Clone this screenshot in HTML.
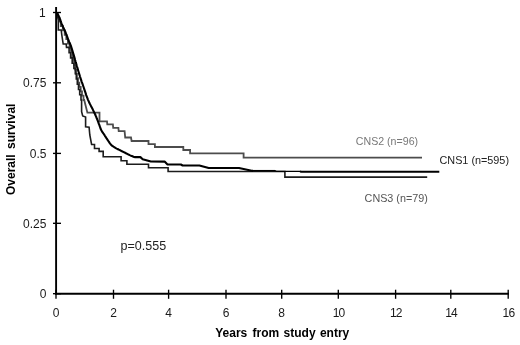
<!DOCTYPE html>
<html>
<head>
<meta charset="utf-8">
<title>Overall survival</title>
<style>
html,body{margin:0;padding:0;background:#fff;}
body{width:520px;height:345px;overflow:hidden;font-family:"Liberation Sans",sans-serif;}
svg{display:block;will-change:transform;filter:blur(0.35px);}
text{font-family:"Liberation Sans",sans-serif;}
</style>
</head>
<body>
<svg width="520" height="345" viewBox="0 0 520 345">
<rect x="0" y="0" width="520" height="345" fill="#ffffff"/>

<!-- curves -->
<g fill="none" stroke-linejoin="miter" stroke-linecap="butt">
<!-- CNS2 gray -->
<polyline stroke="#4c4c4c" stroke-width="1.8" points="57.0,13.0 57.7,13.0 57.7,17.4 59.2,17.4 59.2,21.7 60.8,21.7 60.8,26.1 62.8,26.1 62.8,30.4 64.7,30.4 64.7,34.8 66.3,34.8 66.3,39.1 67.9,39.1 67.9,43.5 69.6,43.5 69.6,47.8 71.0,47.8 71.0,52.2 72.1,52.2 72.1,56.5 73.3,56.5 73.3,60.9 74.2,60.9 74.2,65.2 75.2,65.2 75.2,69.6 76.1,69.6 76.1,73.9 76.9,73.9 76.9,78.2 78.0,78.2 78.0,82.6 79.3,82.6 79.3,86.9 80.7,86.9 80.7,91.3 82.0,91.3 82.0,95.6 83.5,95.6 83.5,100.0 84.2,100.0 87.4,112.7 99.5,112.7 99.5,121.4 107.0,121.4 107.3,124.3 112.9,124.3 113.2,127.8 118.4,127.8 118.7,131.2 124.6,131.2 125.2,137.5 131.0,137.5 131.6,141.0 148.5,141.0 148.5,144.1 154.9,144.1 154.9,147.0 183.3,147.0 183.3,150.0 190.1,150.0 190.1,153.3 243.6,153.3 243.6,157.7 422.0,157.7"/>
<!-- CNS3 dark thin -->
<polyline stroke="#1c1c1c" stroke-width="1.6" points="57.0,13.0 58.3,20.0 58.3,30.0 61.2,30.0 61.8,35.0 63.2,44.0 66.2,44.0 66.5,47.4 68.4,47.4 69.1,47.4 69.1,52.7 70.6,52.7 70.6,57.9 72.2,57.9 72.2,63.2 73.9,63.2 73.9,68.4 75.3,68.4 75.3,73.7 76.3,73.7 76.3,79.0 77.3,79.0 77.3,84.2 78.5,84.2 78.5,89.5 79.7,89.5 79.7,94.7 81.0,94.7 81.0,100.0 81.6,100.0 81.6,111.6 82.7,116.0 85.6,117.0 85.6,126.7 89.1,127.2 89.8,135.0 91.6,144.5 94.5,144.5 94.5,148.5 99.1,148.5 99.1,151.4 103.2,151.4 103.2,156.7 121.1,156.7 121.1,160.7 126.9,160.7 126.9,164.2 148.5,164.2 148.5,167.7 168.1,167.7 168.1,171.5 284.9,171.5 284.9,177.1 427.2,177.1"/>
<!-- CNS1 black thick -->
<polyline stroke="#000000" stroke-width="2.1" stroke-linejoin="round" points="56.8,12.8 57.0,13.1 57.3,13.5 57.6,14.0 57.9,14.5 58.2,15.0 58.4,15.4 58.6,15.8 58.9,16.2 59.1,16.8 59.4,17.5 59.8,18.5 60.2,19.6 60.6,20.9 61.1,22.3 61.7,23.8 62.4,25.4 63.2,27.2 64.1,29.1 64.9,30.9 65.6,32.5 66.1,33.9 66.6,35.0 67.0,36.1 67.4,37.3 67.9,38.7 68.6,40.3 69.3,42.1 70.1,43.9 70.9,45.9 71.6,48.0 72.3,50.4 73.1,53.0 73.9,55.6 74.6,58.1 75.1,60.0 75.5,61.3 75.7,62.0 75.9,62.6 76.0,63.1 76.3,64.0 76.6,65.2 77.0,66.6 77.5,68.1 77.9,69.6 78.3,71.0 78.7,72.3 79.1,73.6 79.5,74.9 79.9,76.3 80.4,77.9 81.0,79.7 81.7,81.8 82.5,83.9 83.2,86.0 83.9,88.0 84.5,89.9 85.1,91.7 85.7,93.4 86.2,95.1 86.8,96.7 87.4,98.2 87.9,99.6 88.5,100.9 89.1,102.2 89.7,103.5 90.4,104.9 91.1,106.3 91.9,107.8 92.6,109.1 93.2,110.4 93.8,111.5 94.2,112.6 94.7,113.5 95.2,114.5 95.6,115.5 96.1,116.6 96.5,117.7 97.0,118.8 97.4,119.9 97.8,120.9 98.2,121.9 98.5,122.8 98.8,123.7 99.2,124.6 99.5,125.5 99.8,126.4 100.1,127.2 100.4,128.1 100.7,129.0 101.2,130.0 101.8,131.1 102.6,132.3 103.4,133.5 104.2,134.7 104.9,135.8 105.6,136.8 106.2,137.8 106.8,138.7 107.4,139.6 108.0,140.5 108.6,141.4 109.3,142.4 109.9,143.3 110.6,144.2 111.3,145.0 112.0,145.6 112.7,146.2 113.5,146.7 114.2,147.1 115.0,147.6 115.8,148.1 116.7,148.6 117.6,149.0 118.5,149.5 119.4,149.9 120.2,150.3 121.1,150.8 121.9,151.2 122.7,151.6 123.5,152.0 124.3,152.4 125.1,152.8 125.9,153.2 126.7,153.6 127.5,154.0 128.2,154.4 128.9,154.7 129.6,155.1 130.3,155.4 131.0,155.7 131.8,156.0 132.6,156.3 133.4,156.7 134.1,156.9 134.6,157.1 140.4,157.1 142.7,159.2 150.9,161.5 164.6,161.6 167.5,164.5 180.9,164.5 182.6,165.5 199.4,165.5 208.7,168.0 239.0,168.0 251.7,170.7 253.0,170.7"/>
<polyline stroke="#000000" stroke-width="1.5" points="252.0,170.7 275.5,170.7"/>
<polyline stroke="#000000" stroke-width="1.2" points="275.0,170.8 276.5,171.4 300.5,171.4"/>
<polyline stroke="#000000" stroke-width="2.1" points="300.0,171.5 301.5,171.8 439.3,171.8"/>
</g>

<!-- axes -->
<g stroke="#000" fill="none">
<line x1="56.1" y1="7" x2="56.1" y2="294.6" stroke-width="1.9"/>
<line x1="55.1" y1="293.7" x2="508.9" y2="293.7" stroke-width="1.9"/>
<g stroke-width="1.35">
<line x1="53" y1="12.5" x2="61" y2="12.5"/>
<line x1="53" y1="82.8" x2="61" y2="82.8"/>
<line x1="53" y1="153.4" x2="61" y2="153.4"/>
<line x1="53" y1="223.3" x2="61" y2="223.3"/>
<line x1="53" y1="293.7" x2="61" y2="293.7"/>
<line x1="56" y1="289.7" x2="56" y2="298.8"/>
<line x1="113.5" y1="289.7" x2="113.5" y2="298.8"/>
<line x1="168.6" y1="289.7" x2="168.6" y2="298.8"/>
<line x1="226" y1="289.7" x2="226" y2="298.8"/>
<line x1="281.7" y1="289.7" x2="281.7" y2="298.8"/>
<line x1="338.3" y1="289.7" x2="338.3" y2="298.8"/>
<line x1="395.6" y1="289.7" x2="395.6" y2="298.8"/>
<line x1="450.8" y1="289.7" x2="450.8" y2="298.8"/>
<line x1="508.2" y1="289.7" x2="508.2" y2="298.8"/>
</g>
</g>

<!-- tick labels -->
<g font-size="12" fill="#1a1a1a">
<g text-anchor="end">
<text x="45.8" y="16.9">1</text>
<text x="46.4" y="87.2">0.75</text>
<text x="46.4" y="157.8">0.5</text>
<text x="46.4" y="227.7">0.25</text>
<text x="46.4" y="298.1">0</text>
</g>
<g text-anchor="middle">
<text x="56" y="316.9">0</text>
<text x="113.5" y="316.9">2</text>
<text x="168.6" y="316.9">4</text>
<text x="226" y="316.9">6</text>
<text x="281.7" y="316.9">8</text>
<text x="338.5" y="316.9" letter-spacing="-0.9">10</text>
<text x="395.8" y="316.9" letter-spacing="-0.9">12</text>
<text x="451.0" y="316.9" letter-spacing="-0.9">14</text>
<text x="508.4" y="316.9" letter-spacing="-0.9">16</text>
</g>
</g>

<!-- axis titles -->
<text x="215.2" y="336.9" font-size="12" font-weight="bold" word-spacing="2" fill="#000">Years from<tspan dx="-1"> study</tspan><tspan dx="-1"> entry</tspan></text>
<text transform="translate(14.8,195) rotate(-90)" font-size="12" font-weight="bold" word-spacing="2" fill="#000">Overall survival</text>

<!-- annotations -->
<text x="355.8" y="145" font-size="11.3" textLength="62.3" lengthAdjust="spacingAndGlyphs" fill="#777">CNS2 (n=96)</text>
<text x="439.5" y="163.8" font-size="11.3" textLength="69.5" lengthAdjust="spacingAndGlyphs" fill="#222">CNS1 (n=595)</text>
<text x="364.6" y="201.7" font-size="11.3" textLength="63.2" lengthAdjust="spacingAndGlyphs" fill="#555">CNS3 (n=79)</text>
<text x="120.6" y="250" font-size="12" textLength="45.6" lengthAdjust="spacingAndGlyphs" fill="#222">p=0.555</text>
</svg>
</body>
</html>
